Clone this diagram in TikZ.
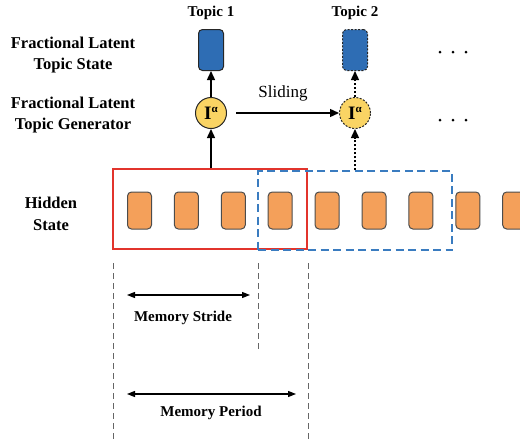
\documentclass[tikz,border=0pt]{standalone}
\usepackage{fontspec}
\setmainfont{Liberation Serif}
\usetikzlibrary{arrows.meta}
\definecolor{topicblue}{RGB}{46,109,180}
\definecolor{cellorange}{RGB}{244,160,90}
\definecolor{genyellow}{RGB}{250,212,100}
\definecolor{winred}{RGB}{226,52,44}
\definecolor{winblue}{RGB}{58,124,192}
\newcommand{\fracop}{I\raisebox{6.5pt}{\fontsize{11}{11}\selectfont α}}
\tikzset{
  lbl/.style={font=\bfseries\fontsize{16.5}{21.5}\selectfont, align=center, inner sep=0pt},
  memlbl/.style={font=\bfseries\fontsize{15}{17}\selectfont, inner sep=0pt},
  toplbl/.style={font=\bfseries\fontsize{15}{17}\selectfont, inner sep=0pt},
  topicbox/.style={draw=black!85, fill=topicblue, rounded corners=4pt, minimum width=25pt, minimum height=41pt, inner sep=0pt, line width=1pt},
  gen/.style={circle, draw=black!85, fill=genyellow, minimum size=31pt, inner sep=0pt, line width=1pt, font=\bfseries\fontsize{19}{19}\selectfont},
  cell/.style={draw=black!70, fill=cellorange, rounded corners=4pt, minimum width=24pt, minimum height=37pt, inner sep=0pt, line width=1pt},
  arr/.style={-{Triangle[length=9pt,width=8pt]}, line width=1.4pt},
  dotarr/.style={arr, dash pattern=on 2pt off 2pt},
  dbl/.style={{Triangle[length=8pt,width=6pt]}-{Triangle[length=8pt,width=6pt]}, line width=1.2pt},
  guide/.style={draw=black!60, dash pattern=on 6pt off 4pt, line width=1pt},
  dotmark/.style={circle, fill=black, minimum size=3pt, inner sep=0pt}
}
\begin{document}
\begin{tikzpicture}[x=1pt,y=-1pt]
\useasboundingbox (0,0) rectangle (520,440);

% row labels on the left
\node[lbl] (lstate) at (73,55) {Fractional Latent\\Topic State};
\node[lbl] (lgen) at (73,115) {Fractional Latent\\Topic Generator};
\node[lbl] (lhidden) at (51,214) {Hidden\\State};

% topic titles
\node[toplbl] (t1) at (211,13) {Topic 1};
\node[toplbl] (t2) at (355,13) {Topic 2};

% topic states
\node[topicbox] (s1) at (211,50) {};
\node[topicbox, dash pattern=on 2pt off 1.5pt] (s2) at (355,50) {};

% generators
\node[gen] (g1) at (211,113) {\fracop};
\node[gen, dash pattern=on 2pt off 1.5pt] (g2) at (355,113) {\fracop};

% continuation dots
\foreach \y/\r in {52/a,120/b} {
  \foreach \k in {0,1,2} {
  \node[dotmark] (dot\r\k) at (440+13*\k,\y) {};
  }
}

% hidden state cells
\foreach \i in {0,...,8} {
  \node[cell] (c\i) at (139.5+46.9*\i,210.5) {};
}

% memory windows
\node[draw=winred, line width=1.4pt, minimum width=194pt, minimum height=80pt, inner sep=0pt] (w1) at (210,209) {};
\node[draw=winblue, line width=1.4pt, dash pattern=on 8pt off 4.5pt, minimum width=194pt, minimum height=79pt, inner sep=0pt] (w2) at (355,210.5) {};

% connectors
\draw[arr] (g1) -- (s1);
\draw[dotarr] (g2) -- (s2);
\draw[arr] (g1 |- w1.north) -- (g1);
\draw[dotarr] (g2 |- w2.north) -- (g2);
\coordinate (sl0) at (236,113);
\draw[arr] (sl0) -- (g2);
\node[font=\fontsize{17}{17}\selectfont, inner sep=0pt] (slide) at (283,93) {Sliding};

% guide lines below the cells
\coordinate (v1t) at (113,263);
\coordinate (v1b) at (113,440);
\coordinate (v2t) at (258,263);
\coordinate (v2b) at (258,350);
\coordinate (v3t) at (308,263);
\coordinate (v3b) at (308,440);
\draw[guide] (v1t) -- (v1b);
\draw[guide] (v2t) -- (v2b);
\draw[guide] (v3t) -- (v3b);

% stride and period spans
\coordinate (sa) at (127,295);
\coordinate (sb) at (250,295);
\coordinate (pa) at (127,394);
\coordinate (pb) at (296,394);
\draw[dbl] (sa) -- (sb);
\draw[dbl] (pa) -- (pb);
\node[memlbl] (lstride) at (183,318) {Memory Stride};
\node[memlbl] (lperiod) at (211,413) {Memory Period};
\end{tikzpicture}
\end{document}
